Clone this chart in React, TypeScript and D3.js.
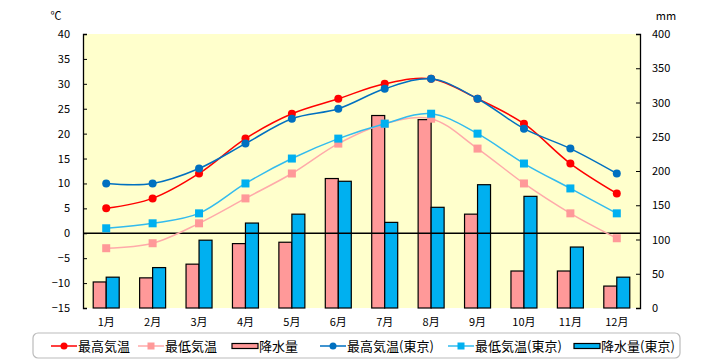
import React, { useEffect, useRef } from 'react'
import * as d3 from 'd3'

const months = ['1月', '2月', '3月', '4月', '5月', '6月', '7月', '8月', '9月', '10月', '11月', '12月']
const maxTemp = [5, 7, 12, 19, 24, 27, 30, 31, 27, 22, 14, 8]
const minTemp = [-3, -2, 2, 7, 12, 18, 22, 23, 17, 10, 4, -1]
const maxTempTokyo = [10, 10, 13, 18, 23, 25, 29, 31, 27, 21, 17, 12]
const minTempTokyo = [1, 2, 4, 10, 15, 19, 22, 24, 20, 14, 9, 4]
const rain = [38, 44, 64, 94, 96, 189, 281, 275, 137, 54, 54, 32]
const rainTokyo = [45, 59, 99, 124, 137, 185, 125, 147, 180, 163, 89, 45]
const tempTicks = [40, 35, 30, 25, 20, 15, 10, 5, 0, -5, -10, -15]
const rainTicks = [0, 50, 100, 150, 200, 250, 300, 350, 400]

const FONT = '"Noto Sans CJK JP", "Noto Sans", sans-serif'

export default function App() {
  const ref = useRef<SVGSVGElement>(null)

  useEffect(() => {
    const svg = d3.select(ref.current)
    svg.selectAll('*').remove()

    const left = 83, right = 640, top = 34, bottom = 308

    const x = d3.scaleBand().domain(months).range([left, right]).paddingInner(0.44).paddingOuter(0.22)
    const x1 = d3.scaleBand().domain(['a', 'b']).range([0, x.bandwidth()])
    const yT = d3.scaleLinear().domain([-15, 40]).range([bottom, top])
    const yR = d3.scaleLinear().domain([0, 400]).range([bottom, top])
    const cx = (m: string) => (x(m) as number) + x.bandwidth() / 2

    // plot background
    svg.append('rect')
      .attr('x', left).attr('y', top)
      .attr('width', right - left).attr('height', bottom - top)
      .attr('fill', '#FFFFCC')

    // bars
    const bars = [
      { key: 'a', data: rain, color: '#FF9999' },
      { key: 'b', data: rainTokyo, color: '#00B0F0' },
    ]
    bars.forEach(b => {
      svg.append('g').selectAll('rect')
        .data(b.data)
        .enter().append('rect')
        .attr('x', (d, i) => (x(months[i]) as number) + (x1(b.key) as number))
        .attr('y', d => yR(d))
        .attr('width', x1.bandwidth())
        .attr('height', d => bottom - yR(d))
        .attr('fill', b.color)
        .attr('stroke', '#000')
        .attr('stroke-width', 1.2)
    })

    // zero line
    svg.append('line')
      .attr('x1', left).attr('x2', right)
      .attr('y1', yT(0)).attr('y2', yT(0))
      .attr('stroke', '#000').attr('stroke-width', 1.3)

    // axes
    const yAxisL = d3.axisLeft(yT).tickValues(tempTicks).tickSize(-4).tickPadding(13).tickFormat(d => {
      const v = d as number
      return v < 0 ? '−' + Math.abs(v) : String(v)
    })
    const gl = svg.append('g').attr('transform', `translate(${left},0)`).call(yAxisL)
    const yAxisR = d3.axisRight(yR).tickValues(rainTicks).tickSize(-4).tickPadding(12)
    const gr = svg.append('g').attr('transform', `translate(${right},0)`).call(yAxisR)
    ;[gl, gr].forEach(g => {
      g.select('.domain').attr('stroke', '#000').attr('stroke-width', 1.3)
      g.selectAll('.tick line').attr('stroke', '#000')
      g.selectAll('.tick text').attr('font-family', FONT).attr('font-size', 11).attr('fill', '#000')
    })

    // month labels
    svg.append('g').selectAll('text')
      .data(months)
      .enter().append('text')
      .attr('x', d => cx(d))
      .attr('y', 326)
      .attr('text-anchor', 'middle')
      .attr('font-family', FONT).attr('font-size', 11)
      .text(d => d)

    svg.append('text').attr('x', 56).attr('y', 20).attr('text-anchor', 'middle')
      .attr('font-family', FONT).attr('font-size', 11).text('℃')
    svg.append('text').attr('x', 666).attr('y', 20).attr('text-anchor', 'middle')
      .attr('font-family', FONT).attr('font-size', 11).text('mm')

    // lines
    const series = [
      { data: maxTemp, line: '#FF0000', mark: '#FF0000', shape: 'circle' },
      { data: minTemp, line: '#FFAAAA', mark: '#FF9999', shape: 'square' },
      { data: maxTempTokyo, line: '#0070C0', mark: '#0070C0', shape: 'circle' },
      { data: minTempTokyo, line: '#33BBEE', mark: '#00B0F0', shape: 'square' },
    ]
    const line = d3.line<number>()
      .x((d, i) => cx(months[i]))
      .y(d => yT(d))
      .curve(d3.curveCatmullRom.alpha(0.5))
    series.forEach(s => {
      svg.append('path').attr('d', line(s.data) as string)
        .attr('fill', 'none').attr('stroke', s.line).attr('stroke-width', 1.5)
      const g = svg.append('g')
      if (s.shape === 'circle') {
        g.selectAll('circle').data(s.data).enter().append('circle')
          .attr('cx', (d, i) => cx(months[i])).attr('cy', d => yT(d))
          .attr('r', 4).attr('fill', s.mark)
      } else {
        g.selectAll('rect').data(s.data).enter().append('rect')
          .attr('x', (d, i) => cx(months[i]) - 4).attr('y', d => yT(d) - 4)
          .attr('width', 8).attr('height', 8).attr('fill', s.mark)
      }
    })

    // legend
    svg.append('rect').attr('x', 33).attr('y', 333).attr('width', 647).attr('height', 25)
      .attr('rx', 5).attr('fill', '#fff').attr('stroke', '#BBBBBB').attr('stroke-width', 1.2)
    const legend = [
      { label: '最高気温', x: 51, kind: 'circle', line: '#FF0000', mark: '#FF0000' },
      { label: '最低気温', x: 138, kind: 'square', line: '#FFAAAA', mark: '#FF9999' },
      { label: '降水量', x: 232, kind: 'bar', line: '#000', mark: '#FF9999' },
      { label: '最高気温(東京)', x: 320, kind: 'circle', line: '#0070C0', mark: '#0070C0' },
      { label: '最低気温(東京)', x: 448, kind: 'square', line: '#33BBEE', mark: '#00B0F0' },
      { label: '降水量(東京)', x: 574, kind: 'bar', line: '#000', mark: '#00B0F0' },
    ]
    const ly = 346
    legend.forEach(l => {
      if (l.kind === 'bar') {
        svg.append('rect').attr('x', l.x).attr('y', ly - 2.5).attr('width', 26).attr('height', 5)
          .attr('fill', l.mark).attr('stroke', '#000').attr('stroke-width', 1.2)
      } else {
        svg.append('line').attr('x1', l.x).attr('x2', l.x + 26).attr('y1', ly).attr('y2', ly)
          .attr('stroke', l.line).attr('stroke-width', 1.5)
        if (l.kind === 'circle') {
          svg.append('circle').attr('cx', l.x + 13).attr('cy', ly).attr('r', 3.5).attr('fill', l.mark)
        } else {
          svg.append('rect').attr('x', l.x + 9.5).attr('y', ly - 3.5).attr('width', 7).attr('height', 7).attr('fill', l.mark)
        }
      }
      svg.append('text').attr('x', l.x + 27).attr('y', ly + 4.5)
        .attr('font-family', FONT).attr('font-size', 13).text(l.label)
    })
  }, [])

  return (
    <svg ref={ref} width={720} height={360} style={{ position: 'absolute', left: 0, top: 0, background: '#fff' }} />
  )
}
